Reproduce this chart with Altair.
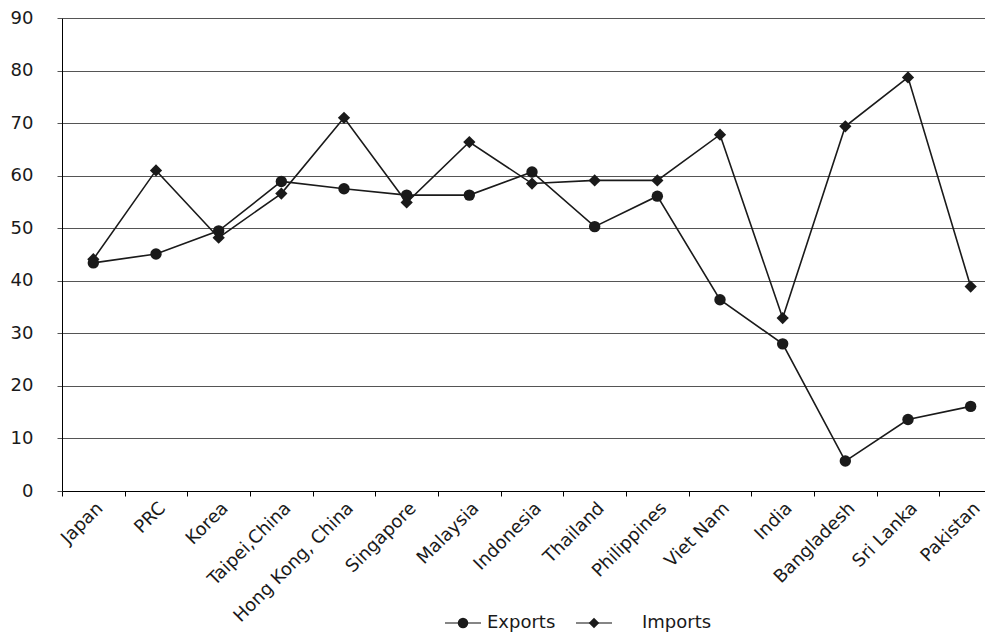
import altair as alt
import pandas as pd

countries = ["Japan", "PRC", "Korea", "Taipei,China", "Hong Kong, China", "Singapore",
             "Malaysia", "Indonesia", "Thailand", "Philippines", "Viet Nam", "India",
             "Bangladesh", "Sri Lanka", "Pakistan"]
exports = [43.4, 45.1, 49.5, 58.9, 57.5, 56.3, 56.3, 60.7, 50.3, 56.1, 36.4, 28.0, 5.7, 13.6, 16.1]
imports = [44.1, 61.0, 48.2, 56.6, 71.0, 54.9, 66.4, 58.5, 59.1, 59.1, 67.8, 32.9, 69.4, 78.7, 38.9]
series = ["Exports", "Imports"]
shapes = ["circle", "diamond"]
y_ticks = list(range(0, 91, 10))

df = pd.DataFrame({
    "country": countries * 2,
    "value": exports + imports,
    "series": [series[0]] * len(countries) + [series[1]] * len(countries),
})
leg_df = pd.DataFrame({"series": series})

FONT = "DejaVu Sans"
INK = "#1a1a1a"
PLOT_H = 473
LEG_Y = PLOT_H + 132

x_scale = alt.Scale(type="band", domain=countries, range=[0, 940], paddingInner=0, paddingOuter=0)
x_axis = alt.Axis(title=None, labelAngle=-45, tickBand="extent", grid=False,
                  domainColor="black", tickColor="black", tickSize=5,
                  labelFontSize=18, labelFont=FONT, labelColor=INK, labelPadding=3)
y_enc = alt.Y("value:Q", scale=alt.Scale(domain=[0, 90], nice=False),
              axis=alt.Axis(values=y_ticks, title=None, grid=True, gridColor="#555555",
                            gridWidth=1.2, tickColor="#555555", domainColor="black",
                            tickSize=5, labelPadding=24, labelFontSize=18, labelFont=FONT,
                            labelColor=INK))

shape_enc = alt.Shape("series:N", scale=alt.Scale(domain=series, range=shapes), legend=None)
size_enc = alt.Size("series:N", scale=alt.Scale(domain=series, range=[130, 150]), legend=None)

lines = alt.Chart(df).mark_line(color=INK, strokeWidth=1.6).encode(
    x=alt.X("country:N", sort=countries, scale=x_scale, axis=x_axis, bandPosition=0.5),
    y=y_enc,
    detail="series:N",
)
points = alt.Chart(df).mark_point(filled=True, opacity=1, color=INK).encode(
    x=alt.X("country:N", sort=countries, scale=x_scale, axis=None, bandPosition=0.5),
    y=y_enc,
    shape=shape_enc,
    size=size_enc,
)

leg_x = alt.X("series:N", scale=alt.Scale(type="point", domain=series, range=[401, 532], padding=0), axis=None)
leg_line = alt.Chart(leg_df).mark_tick(orient="horizontal", size=36, thickness=1.6, color=INK).encode(
    x=leg_x, y=alt.value(LEG_Y))
leg_pts = alt.Chart(leg_df).mark_point(filled=True, opacity=1, color=INK).encode(
    x=leg_x, y=alt.value(LEG_Y), shape=shape_enc, size=alt.value(110))
leg_text = alt.Chart(leg_df).mark_text(align="left", baseline="middle", font=FONT, fontSize=18,
                                       color=INK).encode(
    x=alt.X("series:N", scale=alt.Scale(type="point", domain=series, range=[425, 580], padding=0), axis=None),
    y=alt.value(LEG_Y),
    text="series:N",
)

chart = alt.layer(lines, points, leg_line, leg_pts, leg_text).resolve_scale(
    x="independent"
).properties(
    width=923,
    height=PLOT_H,
    autosize=alt.AutoSizeParams(type="none"),
    padding={"left": 54, "top": 10, "right": 0, "bottom": 145},
).configure_view(stroke=None).configure(background="white")

chart.save("out.html", embed_options={"renderer": "svg", "actions": False})
